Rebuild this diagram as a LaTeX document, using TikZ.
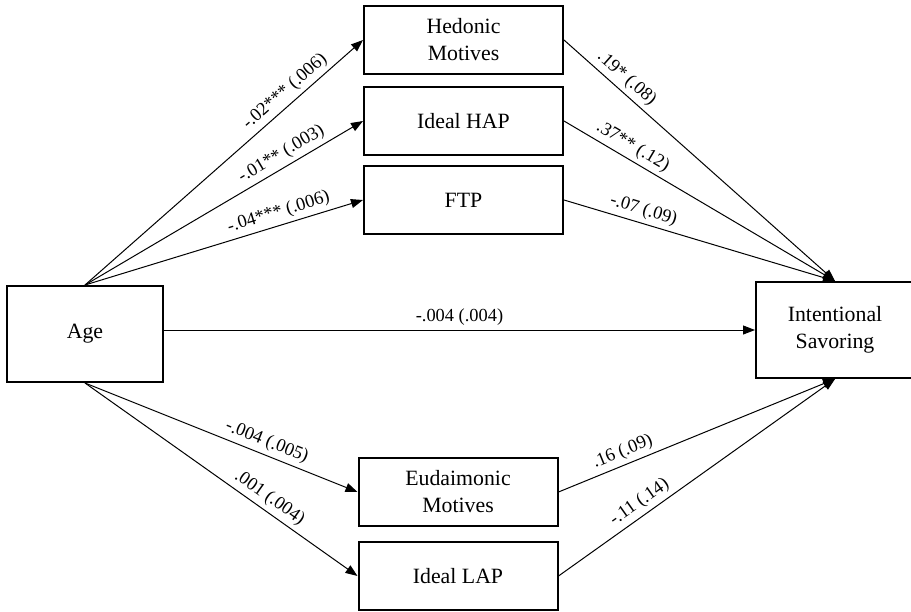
\documentclass[tikz,border=0pt]{standalone}
\usepackage{fontspec}
\setmainfont{Liberation Serif}
\usetikzlibrary{arrows.meta, positioning}
\tikzstyle{var} = [rectangle, minimum width=99.5pt, minimum height=34pt, inner sep=0pt, text centered, align=center, draw=black, line width=1pt, font=\fontsize{10.9}{13.5}\selectfont]
\tikzstyle{ends} = [var, minimum width=78pt, minimum height=48pt]
\tikzstyle{arrow} = [line width=0.5pt,->,>={Triangle[length=6pt,width=4.5pt]}]
\tikzstyle{coef} = [sloped, above, inner sep=2pt, font=\fontsize{9.2}{11}\selectfont]
\begin{document}
\begin{tikzpicture}[x=0.5pt,y=-0.5pt]
				\useasboundingbox (0,0) rectangle (911,611);
				\node (age) [ends] at (85,334) {Age};
				\node (sav) [ends, minimum width=79pt] at (835,330) {Intentional\\Savoring};
				\node (hed) [var] at (463.5,40) {Hedonic\\Motives};
				\node (hap) [var, below=5.5pt of hed] {Ideal HAP};
				\node (ftp) [var, below=4.5pt of hap] {FTP};
				\node (eud) [var] at (458,492) {Eudaimonic\\Motives};
				\node (lap) [var, below=7pt of eud] {Ideal LAP};

				\draw [arrow] (age.north) -- node[coef, pos=0.75] {-.02*** (.006)} (hed.west);
				\draw [arrow] (age.north) -- node[coef, pos=0.73] {-.01** (.003)} (hap.west);
				\draw [arrow] (age.north) -- node[coef, pos=0.71] {-.04*** (.006)} (ftp.west);
				\draw [arrow] (age.east |- sav.west) -- node[coef] {-.004 (.004)} (sav.west);
				\draw [arrow] (age.south) -- node[coef, pos=0.65] {-.004 (.005)} (eud.west);
				\draw [arrow] (age.south) -- node[coef, pos=0.65] {.001 (.004)} (lap.west);

				\draw [arrow] (hed.east) -- node[coef, pos=0.2] {.19* (.08)} (sav.north);
				\draw [arrow] (hap.east) -- node[coef, pos=0.23] {.37** (.12)} (sav.north);
				\draw [arrow] (ftp.east) -- node[coef, pos=0.28] {-.07 (.09)} (sav.north);
				\draw [arrow] (eud.east) -- node[coef, pos=0.25] {.16 (.09)} (sav.south);
				\draw [arrow] (lap.east) -- node[coef, pos=0.32] {-.11 (.14)} (sav.south);

			\end{tikzpicture}
\end{document}
